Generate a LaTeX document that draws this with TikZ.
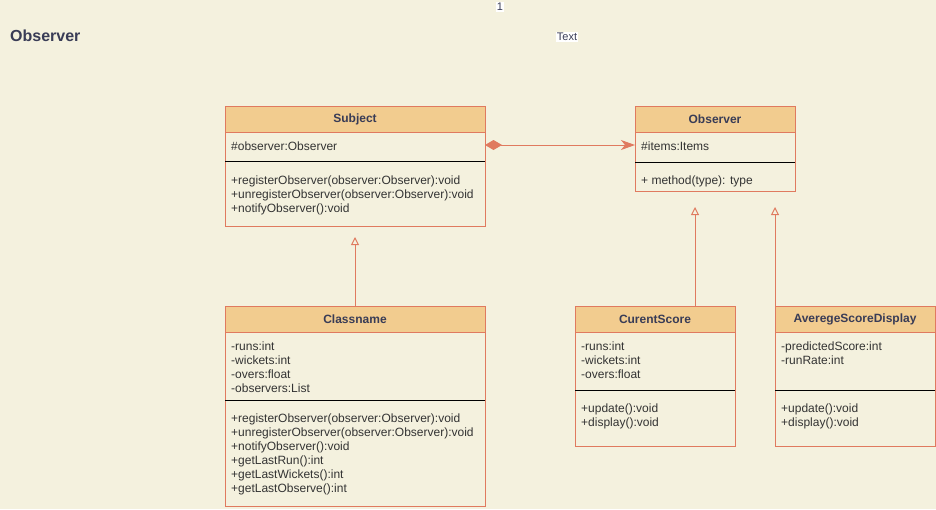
\documentclass[tikz,border=0pt]{standalone}
\usepackage{fontspec}
\setmainfont{Liberation Sans}
\usetikzlibrary{arrows.meta}
\definecolor{bg}{HTML}{F4F1DE}
\definecolor{hd}{HTML}{F2CC8F}
\definecolor{st}{HTML}{E07A5F}
\definecolor{tx}{HTML}{393C56}
\definecolor{mt}{HTML}{333333}
\tikzset{
 x=1pt,y=-1pt,
 cls/.style={draw=st, fill=bg, line width=1pt, anchor=north west, inner sep=0pt, outer sep=0pt},
 hdr/.style={draw=st, fill=hd, line width=1pt, anchor=north west, inner sep=0pt, outer sep=0pt, minimum height=26pt, font=\fontsize{12}{14}\selectfont\bfseries, text=tx},
 mem/.style={anchor=north west, inner sep=0pt, align=left, font=\fontsize{12}{14}\selectfont, text=mt},
 sep/.style={draw=black, line width=1pt},
 conn/.style={draw=st, line width=1pt},
 inh/.style={conn, -{Triangle[open, length=8pt, width=8pt, fill=bg, line width=1pt]}},
 lbl/.style={fill=white, inner sep=1pt, font=\fontsize{11}{13}\selectfont, text=tx},
}
\begin{document}
\begin{tikzpicture}
\fill[bg] (0,0) rectangle (936,509);
\useasboundingbox (0,0) rectangle (936,509);

% title and labels
\node[anchor=west, inner sep=0pt, font=\fontsize{16}{19}\selectfont\bfseries, text=tx] (title) at (10,36) {Observer};
\node[lbl] (one) at (500,7) {1};
\node[lbl] (txt) at (567,37) {Text};

% Subject
\node[cls, minimum width=260pt, minimum height=120pt] (subj) at (225,106) {};
\node[hdr, minimum width=260pt] (subjh) at (225,106) {Subject};
\node[mem] (sattr) at (231,140) {\strut\#observer:Observer};
\draw[sep] ([yshift=-55pt]subj.north west) -- ([yshift=-55pt]subj.north east);
\node[mem] (smeth) at (231,174) {\strut+registerObserver(observer:Observer):void\\+unregisterObserver(observer:Observer):void\\+notifyObserver():void};

% Observer
\node[cls, minimum width=160pt, minimum height=85pt] (obs) at (635,106) {};
\node[hdr, minimum width=160pt] (obsh) at (635,106) {Observer};
\node[mem] (oattr) at (641,140) {\strut\#items:Items};
\draw[sep] ([yshift=-56pt]obs.north west) -- ([yshift=-56pt]obs.north east);
\node[mem] (ometh) at (641,174) {\strut+ method(type): type};

% Classname
\node[cls, minimum width=260pt, minimum height=200pt] (cn) at (225,306) {};
\node[hdr, minimum width=260pt] (cnh) at (225,306) {Classname};
\node[mem] (cattr) at (231,340) {\strut-runs:int\\-wickets:int\\-overs:float\\-observers:List};
\draw[sep] ([yshift=-94pt]cn.north west) -- ([yshift=-94pt]cn.north east);
\node[mem] (cmeth) at (231,412) {\strut+registerObserver(observer:Observer):void\\+unregisterObserver(observer:Observer):void\\+notifyObserver():void\\+getLastRun():int\\+getLastWickets():int\\+getLastObserve():int};

% CurentScore
\node[cls, minimum width=160pt, minimum height=140pt] (cs) at (575,306) {};
\node[hdr, minimum width=160pt] (csh) at (575,306) {CurentScore};
\node[mem] (csattr) at (581,340) {\strut-runs:int\\-wickets:int\\-overs:float};
\draw[sep] ([yshift=-84pt]cs.north west) -- ([yshift=-84pt]cs.north east);
\node[mem] (csmeth) at (581,402) {\strut+update():void\\+display():void};

% AveregeScoreDisplay
\node[cls, minimum width=160pt, minimum height=140pt] (asd) at (775,306) {};
\node[hdr, minimum width=160pt] (asdh) at (775,306) {AveregeScoreDisplay};
\node[mem] (asattr) at (781,340) {\strut-predictedScore:int\\-runRate:int};
\draw[sep] ([yshift=-84pt]asd.north west) -- ([yshift=-84pt]asd.north east);
\node[mem] (asmeth) at (781,402) {\strut+update():void\\+display():void};

% connectors
\draw[conn, {Diamond[length=17pt, width=10pt]}-{Stealth[length=14pt, width=10pt, inset=4pt]}]
  ([yshift=-39pt]subj.north east) -- ([yshift=-39pt]obs.north west);

\coordinate (t1) at (355,237);
\coordinate (t2) at (695,207);
\coordinate (t3) at (775,207);
\draw[inh] (cn.north) -- (t1);
\draw[inh] ([xshift=40pt]cs.north) -- (t2);
\draw[inh] (asd.north west) -- (t3);
\end{tikzpicture}
\end{document}
